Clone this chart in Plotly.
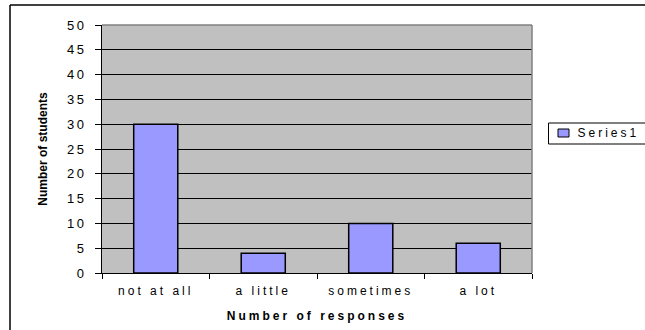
import plotly.graph_objects as go

# Survey responses
categories = ["not at all", "a little", "sometimes", "a lot"]
students = [30, 4, 10, 6]
series_name = "Series1"
y_ticks = [0, 5, 10, 15, 20, 25, 30, 35, 40, 45, 50]

W, H = 645, 330
L, R, T, B = 102, 532, 25, 273  # plot area in pixels
BAR_COLOR = "#9999FF"


def px_x(p):
    return (p - L) / (R - L)


def px_y(p):
    return (B - p) / (B - T)


fig = go.Figure()
fig.add_trace(go.Bar(
    x=categories,
    y=students,
    name=series_name,
    marker=dict(color=BAR_COLOR, line=dict(color="#000000", width=1.5)),
))

paper_line = dict(type="line", xref="paper", yref="paper", layer="above")

fig.update_layout(
    width=W,
    height=H,
    margin=dict(l=L, r=W - R, t=T, b=H - B, pad=0),
    paper_bgcolor="white",
    plot_bgcolor="#C0C0C0",
    bargap=0.59,
    font=dict(family="Liberation Sans, Arial", size=12, color="#000000"),
    showlegend=False,
    shapes=[
        # outer chart frame (top and left edges; the rest runs off the page)
        dict(paper_line, x0=px_x(10), x1=px_x(700), y0=px_y(5), y1=px_y(5),
             line=dict(color="#000000", width=1.5)),
        dict(paper_line, x0=px_x(10), x1=px_x(10), y0=px_y(5), y1=px_y(400),
             line=dict(color="#000000", width=1.5)),
        # plot-area frame (top and right in gray)
        dict(paper_line, x0=0, x1=1, y0=1, y1=1, line=dict(color="#808080", width=1.5)),
        dict(paper_line, x0=1, x1=1, y0=0, y1=1, line=dict(color="#808080", width=1.5)),
        # legend box and swatch
        dict(type="rect", xref="paper", yref="paper",
             x0=px_x(548.5), x1=px_x(700), y0=px_y(144), y1=px_y(123),
             line=dict(color="#000000", width=1), fillcolor="white"),
        dict(type="rect", xref="paper", yref="paper",
             x0=px_x(558), x1=px_x(569), y0=px_y(137), y1=px_y(129),
             line=dict(color="#000000", width=1), fillcolor=BAR_COLOR),
    ],
    annotations=[
        dict(text=series_name, xref="paper", yref="paper",
             x=px_x(608), y=px_y(133), xanchor="center", yanchor="middle",
             showarrow=False, font=dict(size=12)),
    ],
)

fig.update_xaxes(
    automargin=False,
    showgrid=False,
    showline=True, linecolor="#000000", linewidth=1,
    ticks="outside", ticklen=5, tickcolor="#000000", tickson="boundaries",
    ticklabelstandoff=7,
    tickfont=dict(size=12),
    title=dict(text="<b>Number of responses</b>", font=dict(size=12), standoff=14),
)
fig.update_yaxes(
    automargin=False,
    range=[0, 50],
    tickvals=y_ticks,
    showgrid=True, gridcolor="#000000", gridwidth=1,
    zeroline=False,
    showline=True, linecolor="#000000", linewidth=1,
    ticks="outside", ticklen=6, tickcolor="#000000",
    ticklabelstandoff=6,
    tickfont=dict(size=13),
    title=dict(text="<b>Number of students</b>", font=dict(size=12), standoff=21),
)

# Wide letter spacing on the horizontal labels
spacing_js = """
var gd = document.getElementById('{plot_id}');
function spreadText() {
  gd.querySelectorAll('.xtick text, .g-xtitle text, .annotation-text')
    .forEach(function (t) { t.style.letterSpacing = '3px'; });
  gd.querySelectorAll('.ytick text')
    .forEach(function (t) { t.style.letterSpacing = '2.5px'; });
}
spreadText();
gd.on('plotly_afterplot', spreadText);
"""

fig.write_html("out.html", post_script=spacing_js)
